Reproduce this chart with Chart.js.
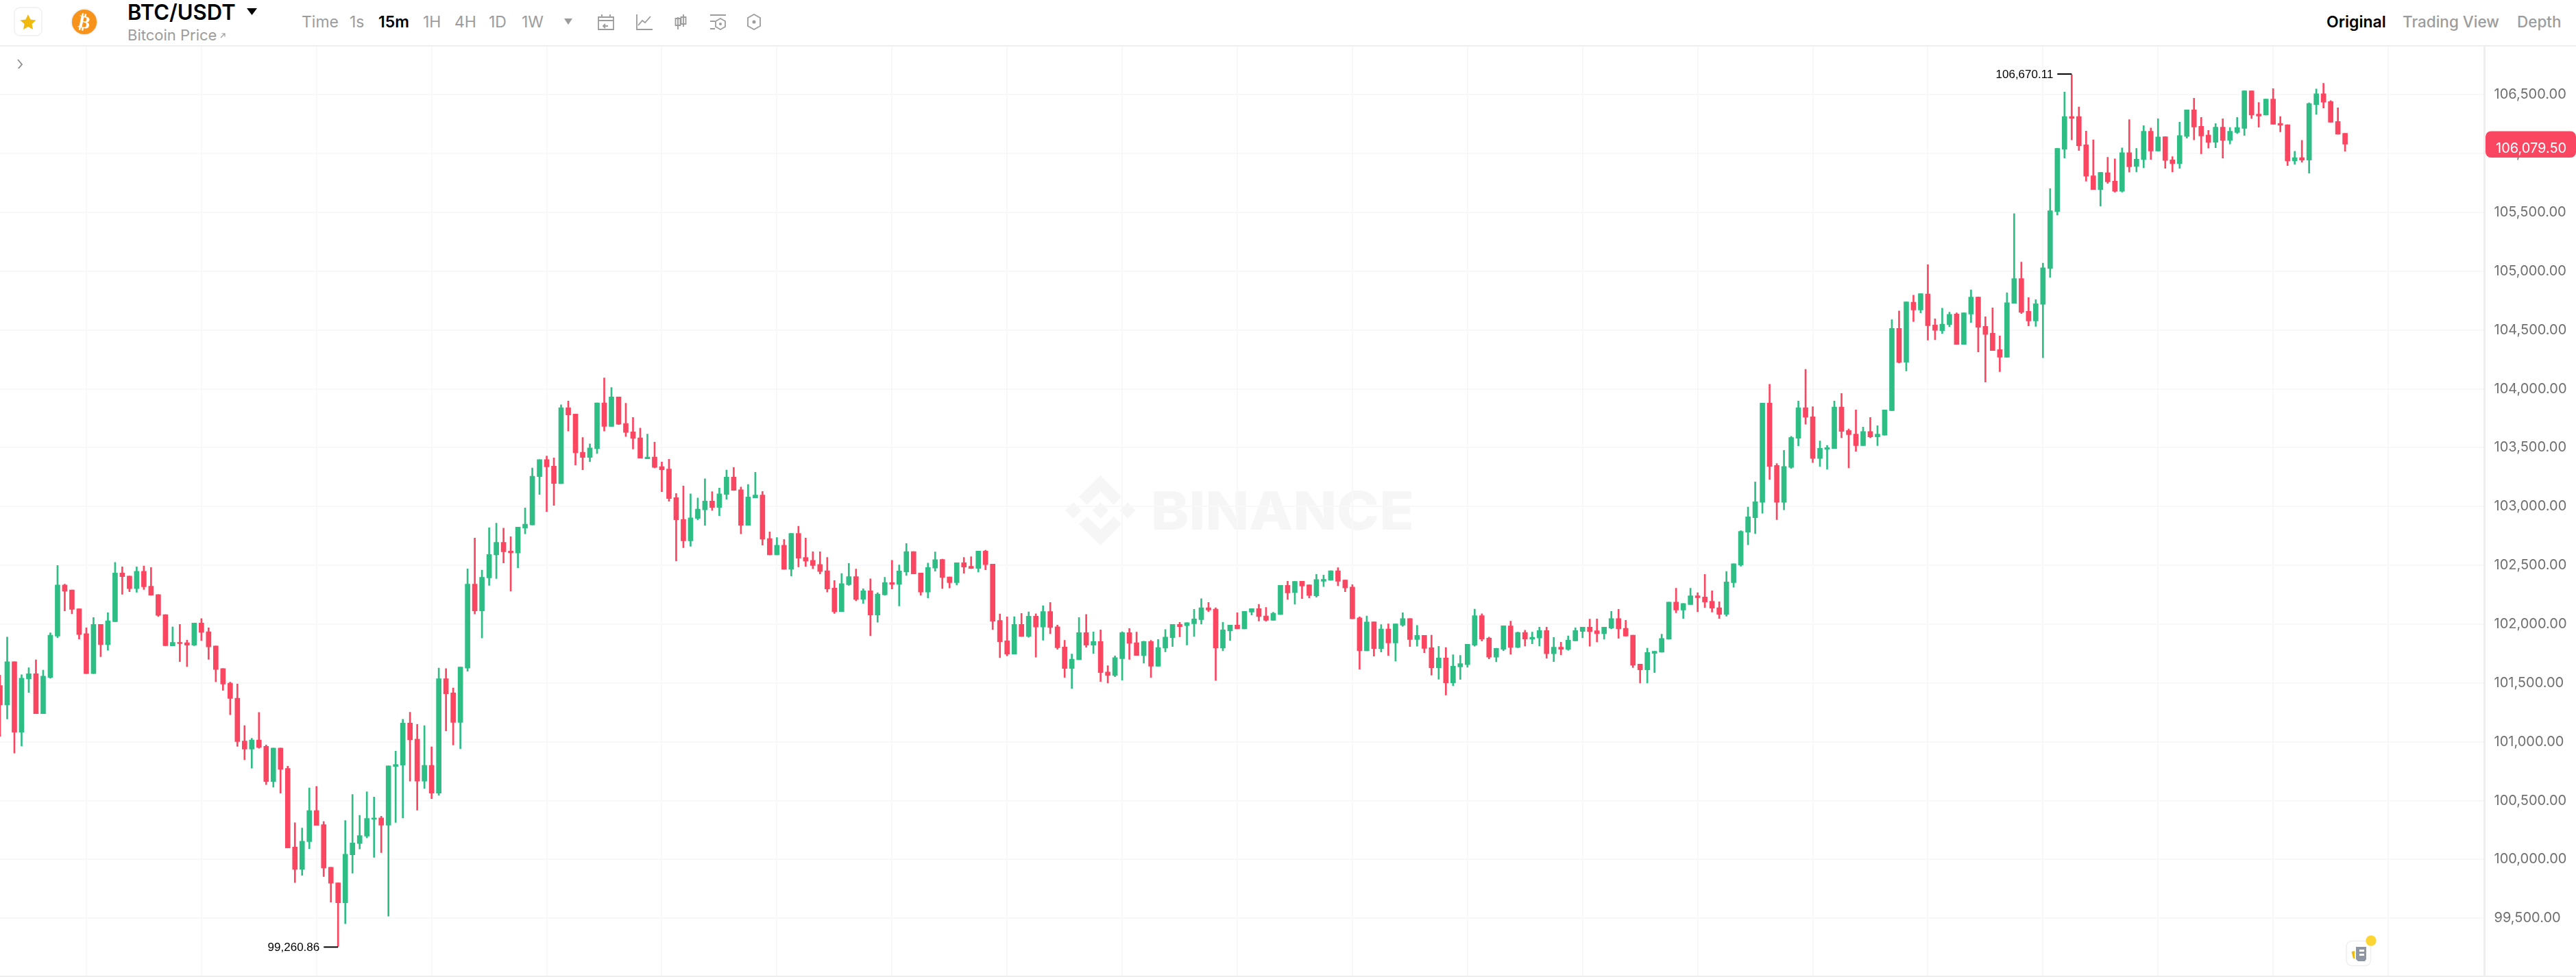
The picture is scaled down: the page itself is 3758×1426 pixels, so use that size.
<!DOCTYPE html>
<html>
<head>
<meta charset="utf-8">
<title>BTC/USDT</title>
<script src="https://cdn.jsdelivr.net/npm/chart.js@4"></script>
<style>
  html, body { margin: 0; padding: 0; background: #fff; }
  body { position: relative; width: 3758px; height: 1426px; overflow: hidden; font-family: Inter, "Noto Sans", sans-serif; }
  .t { position: absolute; white-space: nowrap; line-height: 1; color: #9c9c9c; font-size: 23px; transform: translateY(-50%); }
  .on { color: #000; font-weight: 600; }
  #head { position: absolute; left: 0; top: 66px; width: 3758px; height: 2px; background: #eeeeee; }
  #foot { position: absolute; left: 0; top: 1424px; width: 3758px; height: 2px; background: #eeeeee; }
  #wrap { position: absolute; left: 0; top: 68px; }
  svg.layer { position: absolute; left: 0; top: 0; }
</style>
</head>
<body>

<!-- watermark sits under the transparent canvas -->
<svg class="layer" width="3758" height="1426">
  <g fill="#f6f6f6">
    <polygon points="1605.5,694 1636,725 1625,737 1605.5,717 1586,737 1574,725"/>
    <polygon points="1605.5,796 1636,765 1625,754 1605.5,773 1586,754 1574,765"/>
    <polygon points="1566,733 1577.5,745 1566,757 1554,745"/>
    <polygon points="1605.5,733 1617,745 1605.5,757 1594,745"/>
    <polygon points="1645,733 1656.6,745 1645,757 1633.7,745"/>
    <text x="1679" y="773" font-family="Inter" font-weight="800" font-size="77" textLength="384" lengthAdjust="spacingAndGlyphs">BINANCE</text>
  </g>
</svg>

<div id="wrap"><canvas id="chart" width="3758" height="1356"></canvas></div>
<div id="head"></div>
<div id="foot"></div>

<span class="t" style="left:186px;top:17px;font-size:31px;font-weight:600;color:#000">BTC/USDT</span>
<span class="t" style="left:186px;top:51px;font-size:22px">Bitcoin Price</span>
<span class="t" style="left:440px;top:32px">Time</span>
<span class="t" style="left:510px;top:32px">1s</span>
<span class="t on" style="left:552px;top:32px">15m</span>
<span class="t" style="left:617px;top:32px">1H</span>
<span class="t" style="left:663px;top:32px">4H</span>
<span class="t" style="left:713px;top:32px">1D</span>
<span class="t" style="left:761px;top:32px">1W</span>
<span class="t on" style="left:3394px;top:32px">Original</span>
<span class="t" style="left:3505px;top:32px;font-weight:500;font-size:22.5px">Trading View</span>
<span class="t" style="left:3672px;top:32px;font-weight:500;font-size:22.5px">Depth</span>

<svg class="layer" width="3758" height="100" fill="none" stroke="#9c9c9c" stroke-width="1.8">
  <rect x="21" y="11" width="40" height="41" rx="8" stroke="#f2f2f2"/>
  <polygon points="41,21 44.5,28.5 52.5,29.5 46.5,35 48,43 41,39 34,43 35.5,35 29.5,29.5 37.5,28.5" fill="#f0b90b" stroke="none"/>
  <circle cx="123" cy="32" r="19" fill="#f7931a" stroke="#f2f2f2"/>
  <text x="123" y="41" text-anchor="middle" font-family="DejaVu Sans" font-size="26" font-weight="700" fill="#fff" stroke="none" transform="rotate(12 123 32)">₿</text>
  <polygon points="360,12 375,12 367.5,22" fill="#000" stroke="none"/>
  <path d="M322 55 l6 -6 M323.5 49 h4.5 v4.5" stroke-width="1.2"/>
  <polygon points="823,27 835,27 829,36" fill="#9c9c9c" stroke="none"/>
  <!-- toolbar icons -->
  <path d="M873 25 h22 v18 h-22 z M873 30 h22 M878 21 v4 M890 21 v4 M887 38 h-7 m3 -3 l-3 3 l3 3"/>
  <path d="M929 21 v22 h23 M931 37 l6 -7 l4 3 l8 -9"/>
  <path d="M989 25 v18 M997 21 v18 M985.5 27 h7 v10 h-7 z M993.5 25 h7 v10 h-7 z"/>
  <path d="M1036 22 h23 M1036 31 h7 M1036 42 h7"/>
  <polygon points="1051,27 1058,31 1058,39 1051,43 1044,39 1044,31"/>
  <circle cx="1051" cy="35" r="2" fill="#9c9c9c" stroke="none"/>
  <polygon points="1100,21 1109,26 1109,38 1100,43 1091,38 1091,26"/>
  <circle cx="1100" cy="32" r="2.5" fill="#9c9c9c" stroke="none"/>
  <!-- collapse chevron -->
  <path d="M26 87 l6 7 l-6 7" stroke="#8c8c8c"/>
</svg>

<!-- news button -->
<svg class="layer" width="3758" height="1426">
  <rect x="3423" y="1373.5" width="35.5" height="36" rx="8" fill="#fff" stroke="#eeeeee" stroke-width="1.5"/>
  <polygon points="3437,1382 3452,1382 3452,1400 3450,1403 3440,1403 3437,1400" fill="#8f96a3"/>
  <rect x="3442" y="1386" width="7" height="3" fill="#fff"/>
  <rect x="3442" y="1392" width="7" height="3" fill="#fff"/>
  <polygon points="3430.5,1389 3435,1388 3435,1399 3433,1399" fill="#f0b90b"/>
  <circle cx="3459" cy="1373" r="7.7" fill="#fcd535"/>
</svg>

<script>
// 15m candles, left to right
const opens = [
  101479,101313,101681,101082,101534,101579,101239,101546,101898,102333,
  102290,102131,101919,101579,101998,101826,102021,102435,102409,102302,
  102449,102323,102252,102081,101815,101845,101843,101822,102009,101936,
  101815,101622,101498,101370,101006,100937,101016,100961,100662,100947,
  100773,100105,99915,100151,100415,100296,99934,99801,99632,100039,
  100136,100198,100341,100353,100291,100790,100802,101159,101022,100666,
  100800,100563,101536,101416,101165,101627,102340,102113,102394,102588,
  102695,102621,102604,102817,102844,103254,103398,103343,103194,103840,
  103786,103462,103417,103491,103881,103681,103931,103706,103634,103584,
  103405,103421,103339,103318,103075,102891,102708,102899,102972,103046,
  102992,103103,103250,103143,102840,103073,103097,102728,102588,102670,
  102466,102771,102567,102543,102507,102454,102307,102107,102336,102404,
  102212,102284,102078,102249,102353,102338,102445,102617,102435,102272,
  102476,102550,102402,102353,102522,102491,102474,102621,102511,102031,
  101858,101746,101998,101895,102068,101975,102107,101977,101806,101624,
  101697,101928,101822,101853,101594,101563,101707,101928,101843,101732,
  101853,101643,101796,101886,101998,101987,102004,102039,102140,102128,
  101796,101944,101992,101959,102103,102132,102070,102033,102082,102330,
  102268,102365,102334,102241,102365,102373,102454,102375,102316,102054,
  101773,102020,101792,101959,101841,101992,102047,101870,101905,101800,
  101629,101713,101501,101637,101656,101822,102072,101882,101719,101787,
  101985,101802,101930,101872,101882,101946,101748,101804,101785,101858,
  101938,101975,101944,101919,101967,102047,101965,101907,101660,101612,
  101752,101761,101872,102188,102120,102167,102241,102231,102194,102140,
  102084,102353,102503,102782,102905,103035,103879,103349,103035,103332,
  103580,103840,103763,103409,103485,103493,103846,103646,103615,103518,
  103638,103592,103607,103815,104514,104227,104737,104671,104807,104543,
  104495,104545,104636,104378,104636,104780,104531,104473,104333,104269,
  104727,104937,104660,104578,104718,105023,105506,106036,106315,106315,
  106075,105811,105694,105838,105766,105679,106007,105890,105949,106189,
  106022,106143,105947,105914,106146,106372,106232,106158,106096,106224,
  106112,106179,106214,106533,106335,106327,106463,106257,106245,105937,
  105966,105945,106416,106508,106442,106273,106172
];
const highs = [
  101567,101891,101681,101570,101629,101696,101610,101926,102499,102340,
  102290,102131,101969,102057,101998,102097,102525,102487,102409,102487,
  102494,102482,102252,102081,101976,101998,101864,102009,102048,101969,
  101815,101622,101508,101491,101137,101030,101249,100973,100947,100947,
  100792,100312,100267,100607,100621,100322,99934,99801,100331,100552,
  100374,100576,100531,100367,100795,100921,101192,101251,101148,101138,
  100957,101627,101623,101458,101635,102470,102732,102460,102819,102858,
  102817,102743,102825,102988,103328,103398,103429,103413,103864,103897,
  103786,103586,103532,103881,104093,104011,103931,103877,103757,103666,
  103615,103547,103378,103402,103110,103174,103108,103073,103236,103126,
  103157,103310,103332,103165,103188,103291,103128,102784,102736,102720,
  102773,102833,102732,102615,102615,102567,102371,102431,102517,102468,
  102301,102385,102268,102398,102542,102503,102685,102617,102435,102520,
  102614,102553,102402,102522,102567,102573,102621,102629,102511,102087,
  102062,102064,102091,102105,102089,102157,102185,101992,101862,101746,
  102056,102082,101934,101952,101647,101730,101936,101963,101932,101856,
  101862,101870,101954,101998,102016,102012,102126,102216,102185,102140,
  102016,101992,102097,102109,102132,102169,102142,102101,102330,102365,
  102363,102365,102334,102423,102417,102454,102480,102375,102336,102062,
  102070,102020,101996,102002,102002,102097,102047,101990,101905,101907,
  101812,101802,101740,101734,101829,102128,102089,101891,101796,101986,
  102025,101932,101948,101932,101975,101975,101887,101847,101901,101969,
  101975,102043,102045,101975,102109,102126,102033,101907,101660,101796,
  101769,101915,102188,102305,102175,102305,102268,102423,102284,102190,
  102448,102513,102794,102996,103209,103879,104040,103365,103477,103596,
  103897,104166,103848,103557,103520,103897,103961,103660,103821,103675,
  103757,103687,103821,104588,104663,104739,104797,104809,105056,104595,
  104685,104652,104646,104646,104842,104782,104613,104689,104450,104817,
  105490,105077,104776,104759,105069,105702,106044,106523,106670.11,106397,
  106191,106117,105840,105968,105956,106049,106288,106044,106238,106218,
  106296,106143,105974,106267,106372,106471,106308,106197,106255,106296,
  106222,106308,106535,106533,106434,106463,106552,106315,106245,106020,
  106112,106432,106550,106597,106451,106389,106172
];
const lows = [
  101047,101194,100904,100964,101420,101239,101239,101541,101886,102112,
  102088,101874,101579,101579,101724,101777,102021,102254,102276,102271,
  102295,102245,102064,101817,101815,101681,101639,101817,101860,101700,
  101510,101437,101230,100961,100847,100776,100945,100636,100614,100564,
  100098,99804,99865,100091,100289,99854,99637,99260.86,99454,99884,
  100089,100184,100018,100058,99518,100315,100353,100666,100420,100604,
  100517,100546,101093,100973,100942,101600,102087,101882,102330,102388,
  102520,102281,102479,102767,102844,103103,102957,103009,103194,103642,
  103353,103312,103380,103450,103642,103681,103697,103594,103489,103411,
  103405,103328,103126,103044,102538,102650,102662,102887,102840,102967,
  102922,103062,103136,102767,102840,103073,102672,102588,102588,102466,
  102410,102487,102491,102470,102427,102272,102091,102107,102330,102198,
  102177,101901,102016,102247,102299,102155,102414,102427,102247,102223,
  102450,102303,102307,102332,102433,102472,102443,102462,101954,101715,
  101730,101746,101895,101888,101719,101864,101919,101787,101548,101453,
  101697,101804,101750,101513,101499,101554,101525,101701,101734,101668,
  101548,101643,101765,101810,101893,101823,101895,102000,102107,101521,
  101773,101860,101959,101959,102078,102027,102025,102033,102082,102210,
  102169,102217,102223,102229,102320,102373,102326,102276,102045,101618,
  101773,101728,101763,101734,101686,101981,101810,101812,101757,101567,
  101532,101398,101476,101530,101633,101812,101856,101705,101680,101775,
  101744,101800,101814,101833,101814,101711,101682,101738,101777,101858,
  101884,101812,101849,101872,101959,101880,101899,101631,101499,101499,
  101589,101761,101872,102097,102049,102167,102105,102142,102103,102049,
  102068,102313,102493,102674,102769,102942,103229,102889,102971,103324,
  103516,103699,103374,103340,103316,103493,103584,103328,103470,103518,
  103584,103518,103607,103815,104219,104153,104572,104646,104415,104417,
  104471,104528,104378,104378,104564,104314,104058,104326,104147,104269,
  104727,104640,104535,104531,104264,104947,105477,105962,106117,106026,
  105766,105694,105554,105747,105673,105673,105842,105844,105879,105950,
  106022,105875,105844,105875,106131,106117,105999,106047,106049,105962,
  106082,106170,106154,106298,106224,106327,106249,106185,105898,105908,
  105927,105834,106333,106387,106267,106164,106020
];
const closes = [
  101313,101681,101082,101541,101579,101239,101558,101907,102333,102280,
  102126,101912,101579,101998,101826,102028,102435,102404,102302,102449,
  102318,102247,102074,101817,101845,101834,101822,102009,101931,101807,
  101615,101491,101368,101002,100937,101016,100952,100662,100947,100766,
  100098,99915,100155,100415,100289,99927,99797,99632,100044,100141,
  100203,100348,100353,100291,100795,100807,101159,101016,100666,100800,
  100563,101536,101408,101165,101635,102340,102113,102398,102592,102695,
  102615,102606,102825,102850,103258,103398,103337,103196,103840,103778,
  103456,103417,103497,103881,103681,103931,103699,103629,103578,103411,
  103421,103332,103312,103068,102887,102708,102903,102978,103046,102992,
  103108,103250,103138,102840,103081,103097,102722,102588,102670,102466,
  102771,102561,102536,102499,102448,102299,102105,102344,102404,102210,
  102284,102078,102256,102353,102338,102452,102617,102427,102272,102482,
  102548,102396,102353,102522,102485,102474,102621,102505,102025,101851,
  101746,101998,101895,102068,101975,102107,101971,101800,101624,101703,
  101928,101822,101853,101589,101563,101715,101928,101837,101734,101853,
  101643,101802,101891,101998,101979,102012,102045,102140,102120,101796,
  101952,101992,101959,102109,102132,102064,102033,102093,102330,102266,
  102363,102324,102243,102379,102381,102454,102365,102307,102045,101773,
  102018,101792,101959,101841,102002,102047,101870,101905,101794,101629,
  101713,101501,101643,101664,101829,102072,101874,101719,101794,101986,
  101802,101930,101874,101889,101946,101748,101804,101787,101864,101946,
  101975,101936,101919,101975,102047,101959,101899,101651,101612,101759,
  101769,101878,102188,102120,102175,102241,102225,102188,102136,102084,
  102359,102513,102788,102912,103041,103879,103341,103035,103340,103586,
  103840,103759,103409,103495,103501,103846,103638,103611,103518,103638,
  103592,103615,103821,104514,104225,104739,104671,104809,104537,104497,
  104551,104634,104378,104646,104780,104524,104463,104326,104269,104733,
  104937,104650,104578,104724,105030,105514,106044,106315,106300,106067,
  105807,105694,105840,105760,105679,106007,105888,105952,106189,106022,
  106141,105941,105914,106154,106372,106226,106150,106094,106224,106112,
  106189,106222,106533,106327,106319,106463,106249,106242,105937,105966,
  105945,106426,106508,106436,106267,106164,106079.5
];

const priceTicks = [99500, 100000, 100500, 101000, 101500, 102000, 102500, 103000,
  103500, 104000, 104500, 105000, 105500, 106000, 106500];
// every 16th candle (4h) gets a vertical grid line
const timeTicks = [12, 28, 44, 60, 76, 92, 108, 124, 140, 156, 172, 188, 204, 220,
  236, 252, 268, 284, 300, 316, 332];

const UP = '#2ebd85', DOWN = '#fb4661', GRID = '#f8f8f8', AXIS = '#eeeeee';
const fmt = v => v.toLocaleString('en-US', { minimumFractionDigits: 2, maximumFractionDigits: 2 });
const colors = closes.map((c, i) => (c >= opens[i] ? UP : DOWN));

// marks the session high/low and the last price tag
const markers = {
  id: 'markers',
  afterDraw(chart) {
    const { ctx, scales: { x, y } } = chart;
    ctx.save();

    const hi = Math.max(...highs), lo = Math.min(...lows);
    [[hi, highs.indexOf(hi), -1], [lo, lows.indexOf(lo), 1]].forEach(([v, i, nudge]) => {
      const px = x.getPixelForValue(i), py = y.getPixelForValue(v) + nudge;
      ctx.strokeStyle = '#000';
      ctx.lineWidth = 2;
      ctx.beginPath();
      ctx.moveTo(px - 21, py);
      ctx.lineTo(px, py);
      ctx.stroke();
      ctx.fillStyle = '#000';
      ctx.font = '17px "Liberation Sans"';
      ctx.textAlign = 'right';
      ctx.textBaseline = 'middle';
      ctx.fillText(fmt(v), px - 27, py + 1);
    });

    const last = closes[closes.length - 1], py = y.getPixelForValue(last);
    ctx.fillStyle = '#fb4661';
    ctx.beginPath();
    ctx.roundRect(3626, py - 19, 132, 38.5, 8);
    ctx.fill();
    ctx.fillStyle = '#fff';
    ctx.font = '20px Inter';
    ctx.textAlign = 'left';
    ctx.fillText(fmt(last), 3641, py + 6.5);
    ctx.restore();
  }
};

new Chart(document.getElementById('chart'), {
  type: 'bar',
  data: {
    datasets: [
      {
        label: 'body',
        data: closes.map((c, i) => ({ x: i, y: [opens[i], c] })),
        backgroundColor: colors,
        barThickness: 7,
        minBarLength: 2,
        grouped: false,
        order: 1
      },
      {
        label: 'wick',
        data: highs.map((h, i) => ({ x: i, y: [lows[i], h] })),
        backgroundColor: colors,
        barThickness: 2,
        grouped: false,
        order: 2
      }
    ]
  },
  options: {
    responsive: false,
    animation: false,
    devicePixelRatio: 1,
    layout: { padding: 0 },
    plugins: { legend: { display: false }, tooltip: { enabled: false } },
    scales: {
      x: {
        type: 'linear',
        offset: false,
        min: 0,
        max: 345.38,
        afterBuildTicks: s => { s.ticks = timeTicks.map(value => ({ value })); },
        grid: { color: GRID, lineWidth: 2, offset: false, drawTicks: false },
        border: { display: false },
        ticks: { display: false }
      },
      y: {
        position: 'right',
        min: 99012.4,
        max: 106909.4,
        afterBuildTicks: s => { s.ticks = priceTicks.map(value => ({ value })); },
        // the plot runs edge to edge, labels must not push it in
        afterFit: s => { s.width = 133.5; s.paddingTop = 0; s.paddingBottom = 0; },
        grid: { color: GRID, lineWidth: 2, drawTicks: false },
        border: { color: AXIS, width: 3 },
        ticks: {
          color: '#707070',
          padding: 14,
          font: { family: 'Inter', size: 20 },
          callback: v => fmt(v)
        }
      }
    }
  },
  plugins: [markers]
});
</script>
</body>
</html>
